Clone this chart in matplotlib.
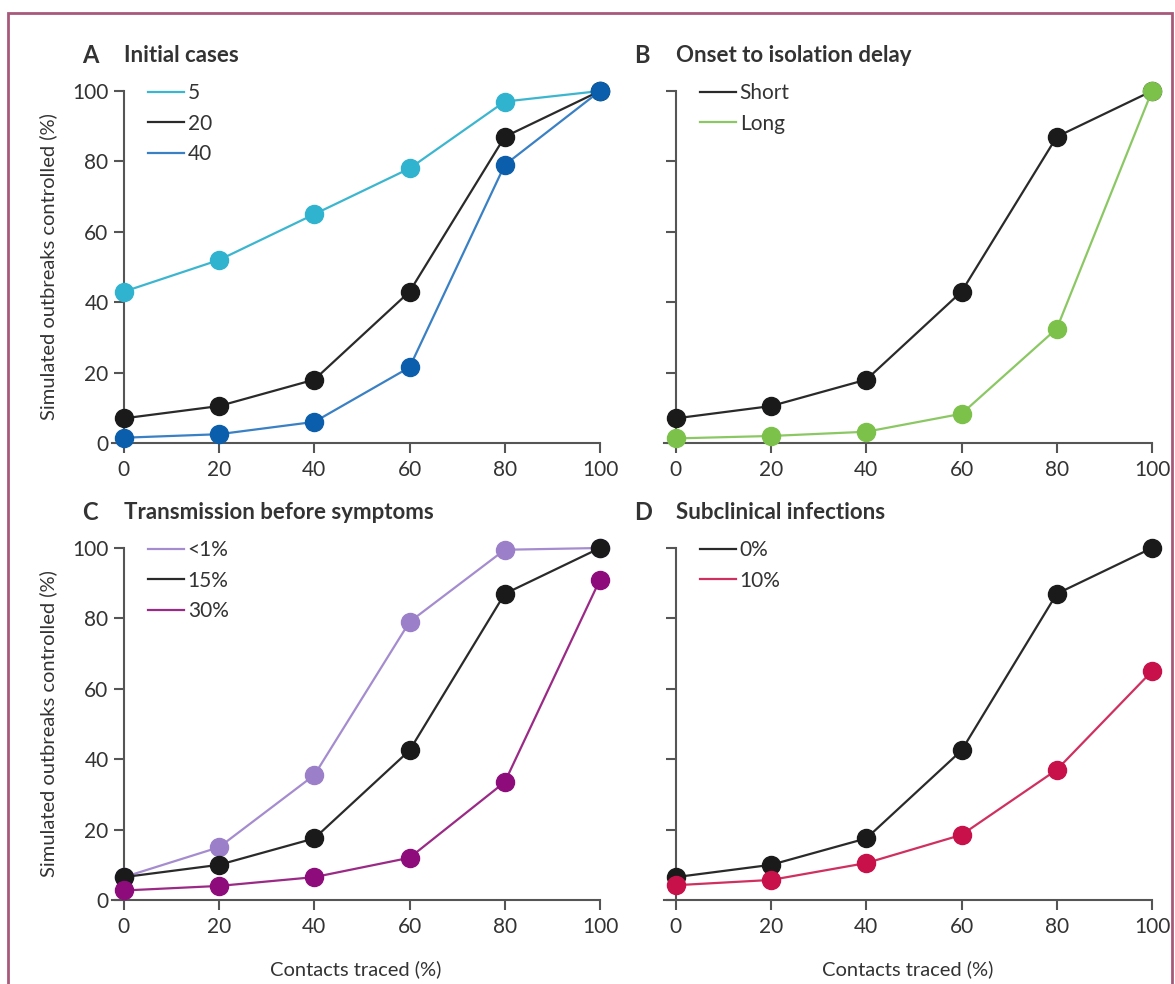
import matplotlib
matplotlib.use('Agg')
import matplotlib.pyplot as plt
from matplotlib.patches import Rectangle

plt.rcParams['font.family'] = ['Lato', 'DejaVu Sans']

# 数据
traced = [0, 20, 40, 60, 80, 100]

a_labels = ['5', '20', '40']
a_5 = [43, 52, 65, 78, 97, 100]
a_20 = [7, 10.5, 18, 43, 87, 100]
a_40 = [1.5, 2.5, 6, 21.5, 79, 100]

b_labels = ['Short', 'Long']
b_short = [7, 10.5, 18, 43, 87, 100]
b_long = [1.3, 2, 3.2, 8.3, 32.5, 100]

c_labels = ['<1%', '15%', '30%']
c_lt1 = [6.5, 15, 35.5, 79, 99.5, 100]
c_15 = [6.5, 10, 17.5, 42.5, 87, 100]
c_30 = [2.7, 4, 6.5, 12, 33.5, 91]

d_labels = ['0%', '10%']
d_0 = [6.5, 10, 17.5, 42.5, 87, 100]
d_10 = [4.2, 5.7, 10.5, 18.5, 37, 65]

titles = [('A', 'Initial cases'), ('B', 'Onset to isolation delay'),
          ('C', 'Transmission before symptoms'), ('D', 'Subclinical infections')]

# 每组: (数据, 线色, 点色)
panels = [
    [(a_5, '#3cb6cf', '#2fb3cf'), (a_20, '#2a2a2a', '#1a1a1a'), (a_40, '#3a80c4', '#0b5eab')],
    [(b_short, '#2a2a2a', '#1a1a1a'), (b_long, '#8bc864', '#7cc24a')],
    [(c_lt1, '#a48ccf', '#9b7fc8'), (c_15, '#2a2a2a', '#1a1a1a'), (c_30, '#9a2a85', '#8e0b7c')],
    [(d_0, '#2a2a2a', '#1a1a1a'), (d_10, '#cf3060', '#c8104a')],
]
labels = [a_labels, b_labels, c_labels, d_labels]

W, H = 1175, 984
fig = plt.figure(figsize=(W / 100, H / 100), dpi=100)

# 外框
fig.patches.append(Rectangle((8 / W, -0.02), (1164 / W), 1 - 13 / H + 0.02,
                             transform=fig.transFigure, fill=False,
                             edgecolor='#a8587a', linewidth=2))

lefts = [112, 664, 112, 664]
tops = [91, 91, 548, 548]
bots = [443, 443, 900, 900]
txtc = '#333333'
spc = '#555555'
for i in range(4):
    left, top, bot = lefts[i], tops[i], bots[i]
    ax = fig.add_axes([left / W, 1 - bot / H, 488 / W, (bot - top) / H])
    for j, (vals, lc, mc) in enumerate(panels[i]):
        ax.plot(traced, vals, '-', color=lc, lw=1.6, marker='o', ms=13,
                mfc=mc, mec=mc, label=labels[i][j], clip_on=False, zorder=3 + j)
    ax.set_xlim(-2.5, 100)
    ax.set_ylim(0, 100)
    ax.spines['top'].set_visible(False)
    ax.spines['right'].set_visible(False)
    ax.spines['left'].set_position(('data', 0))
    for s in ['left', 'bottom']:
        ax.spines[s].set_color(spc)
        ax.spines[s].set_linewidth(1.5)
    ax.set_xticks(traced)
    ax.set_yticks([0, 20, 40, 60, 80, 100])
    ax.tick_params(length=7, width=1.5, color=spc, labelsize=15,
                   labelcolor=txtc)
    ax.tick_params(axis='x', pad=5)
    ax.tick_params(axis='y', pad=4)
    if i % 2 == 1:
        ax.set_yticklabels([])
    else:
        ax.set_ylabel('Simulated outbreaks controlled (%)', fontsize=14.5,
                      color=txtc, labelpad=11)
    if i >= 2:
        ax.set_xlabel('Contacts traced (%)', fontsize=14.5, color=txtc, labelpad=17)
    ax.set_xticklabels([str(t) for t in traced])
    leg = ax.legend(loc='upper left', bbox_to_anchor=(0.074, 1.022), frameon=False,
                    borderpad=0, borderaxespad=0,
                    handlelength=1.7, handletextpad=0.2, labelspacing=0.5,
                    fontsize=15)
    for t in leg.get_texts():
        t.set_color(txtc)
    for h in leg.legend_handles:
        h.set_marker('')
        h.set_linewidth(1.6)
    ax.text(-0.062, 1.102, titles[i][0], transform=ax.transAxes, fontsize=17,
            fontweight='bold', color=txtc, va='center')
    ax.text(0.024, 1.102, titles[i][1], transform=ax.transAxes, fontsize=16,
            fontweight='bold', color=txtc, va='center')

fig.savefig('out.png', dpi=100)
